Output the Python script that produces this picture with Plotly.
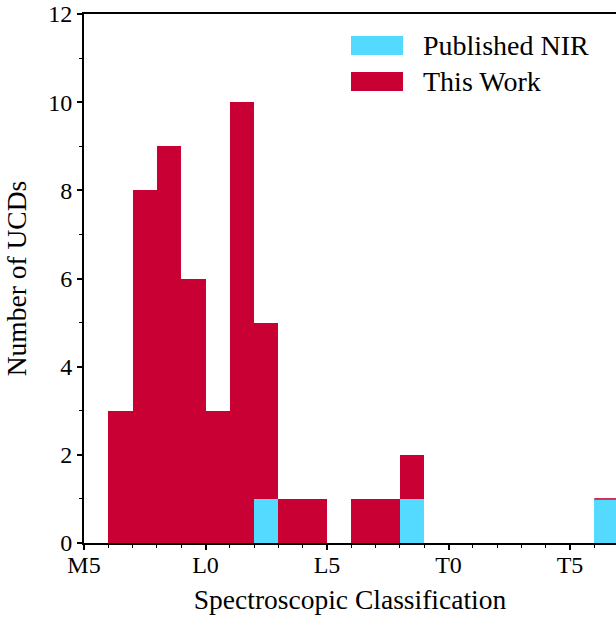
import plotly.graph_objects as go

# Spectral subtype bins: 0 = M5, 5 = L0, 10 = L5, 15 = T0, 20 = T5
bin_left = list(range(0, 22))
published_nir = [0, 0, 0, 0, 0, 0, 0, 1, 0, 0, 0, 0, 0, 1, 0, 0, 0, 0, 0, 0, 0, 1]
this_work =     [0, 3, 8, 9, 6, 3, 10, 4, 1, 1, 0, 1, 1, 1, 0, 0, 0, 0, 0, 0, 0, 0]
tick_vals = [0, 5, 10, 15, 20]
tick_text = ["M5", "L0", "L5", "T0", "T5"]

CYAN = "#55DAFF"
RED = "#C80033"
FONT = "Liberation Serif"
TICK_SIZE = 24
LABEL_SIZE = 27.5

centers = [b + 0.5 for b in bin_left]

fig = go.Figure()
fig.add_trace(go.Bar(x=centers, y=published_nir, width=1, marker=dict(color=CYAN, line=dict(width=0)),
                     name="Published NIR"))
fig.add_trace(go.Bar(x=centers, y=this_work, width=1, marker=dict(color=RED, line=dict(width=0)),
                     name="This Work"))

# thin top edge of the stacked "This Work" step where its count is zero
for b, n, w in zip(bin_left, published_nir, this_work):
    if w == 0 and n > 0:
        fig.add_trace(go.Scatter(x=[b, b + 1], y=[n, n], mode="lines",
                                 line=dict(color=RED, width=1.5), hoverinfo="skip"))

fig.update_layout(
    width=616, height=617,
    margin=dict(l=84, r=0, t=14, b=74),
    barmode="stack", bargap=0,
    plot_bgcolor="white", paper_bgcolor="white",
    showlegend=False,
    font=dict(family=FONT, size=TICK_SIZE, color="black"),
)
fig.update_xaxes(
    range=[0, 532 / 24.3],
    tickvals=tick_vals, ticktext=tick_text,
    ticks="outside", ticklen=5, tickwidth=1.5, tickcolor="black",
    minor=dict(dtick=1, tick0=0, ticks="outside", ticklen=3, tickwidth=1.2, tickcolor="black"),
    showline=True, linecolor="black", linewidth=2, mirror=True,
    showgrid=False, zeroline=False,
    ticklabelstandoff=-6,
    title=dict(text="Spectroscopic Classification", font=dict(size=LABEL_SIZE), standoff=13),
    tickfont=dict(size=TICK_SIZE),
)
fig.update_yaxes(
    range=[0, 12], dtick=2,
    ticks="outside", ticklen=5, tickwidth=1.5, tickcolor="black",
    minor=dict(dtick=1, ticks="outside", ticklen=3, tickwidth=1.2, tickcolor="black"),
    showline=True, linecolor="black", linewidth=2,
    showgrid=False, zeroline=False,
    title=dict(text="Number of UCDs", font=dict(size=LABEL_SIZE), standoff=14),
    tickfont=dict(size=TICK_SIZE),
)

# manual legend (large patches like the reference)
legend_items = [("Published NIR", CYAN), ("This Work", RED)]
for i, (label, color) in enumerate(legend_items):
    y_top = 36 + i * 36
    y0 = 1 - (y_top + 19 - 14) / 529
    y1 = 1 - (y_top - 14) / 529
    fig.add_shape(type="rect", xref="paper", yref="paper",
                  x0=(351 - 84) / 532, x1=(403 - 84) / 532, y0=y0, y1=y1,
                  fillcolor=color, line=dict(width=0))
    fig.add_annotation(xref="paper", yref="paper", x=(421 - 84) / 532, y=(y0 + y1) / 2,
                       text=label, showarrow=False, xanchor="left", yanchor="middle",
                       font=dict(size=LABEL_SIZE + 0.5, family=FONT))

fig.write_html("out.html")
